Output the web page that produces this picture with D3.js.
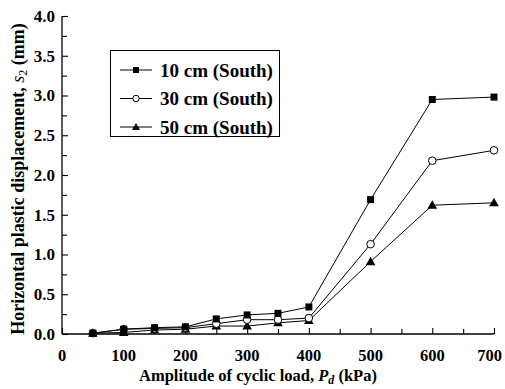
<!DOCTYPE html>
<html>
<head>
<meta charset="utf-8">
<style>
  html, body { margin: 0; padding: 0; background: #fff; }
  svg { display: block; }
  text { font-family: "Liberation Serif", "Times New Roman", serif; font-weight: bold; fill: #000; }
</style>
</head>
<body>
<div id="chart"></div>
<script src="https://cdn.jsdelivr.net/npm/d3@7"></script>
<script>
const loads = [50, 100, 150, 200, 250, 300, 350, 400, 500, 600, 700];
const s10 = [0.01, 0.06, 0.08, 0.09, 0.19, 0.24, 0.26, 0.34, 1.69, 2.95, 2.98];
const s30 = [0.01, 0.06, 0.07, 0.08, 0.13, 0.18, 0.18, 0.20, 1.13, 2.18, 2.31];
const s50 = [0.01, 0.02, 0.05, 0.06, 0.10, 0.10, 0.14, 0.17, 0.91, 1.62, 1.65];
const seriesNames = ["10 cm (South)", "30 cm (South)", "50 cm (South)"];
const markers = ["square", "circle", "triangle"];
const xTicks = [0, 100, 200, 300, 400, 500, 600, 700];
const yTicks = [0, 0.5, 1.0, 1.5, 2.0, 2.5, 3.0, 3.5, 4.0];

const width = 505, height = 389;
const margin = { left: 62, right: 11, top: 16, bottom: 55 };

const svg = d3.select("#chart").append("svg")
  .attr("width", width).attr("height", height);

const x = d3.scaleLinear().domain([0, 700]).range([margin.left, width - margin.right]);
const y = d3.scaleLinear().domain([0, 4]).range([height - margin.bottom, margin.top]);

// axes with inward ticks
const xAxis = svg.append("g").attr("transform", `translate(0,${y(0)})`)
  .call(d3.axisTop(x).tickValues(d3.range(0, 701, 50)).tickSize(6).tickFormat(""));
const yAxis = svg.append("g").attr("transform", `translate(${x(0)},0)`)
  .call(d3.axisRight(y).tickValues(d3.range(0, 4.01, 0.25)).tickSize(6).tickFormat(""));
[xAxis, yAxis].forEach(g => {
  g.select(".domain").attr("stroke", "#000").attr("stroke-width", 1.3);
  g.selectAll(".tick line").attr("stroke", "#000").attr("stroke-width", 1.1);
});
xAxis.selectAll(".tick line").attr("y2", d => d % 100 === 0 ? -6 : -5);
yAxis.selectAll(".tick line").attr("x2", d => Math.abs(d * 2 - Math.round(d * 2)) < 1e-6 ? 6 : 5);
xAxis.select(".domain").attr("d", `M${x(0)},0H${x(700)}`);
yAxis.select(".domain").attr("d", `M0,${y(0)}V${y(4)}`);

const xLabels = svg.append("g").selectAll("text").data(xTicks).join("text")
  .attr("x", d => x(d)).attr("y", y(0) + 27)
  .attr("text-anchor", "middle").style("font-size", "16.5px")
  .text(d => d);
// keep the last label inside the picture, as in the reference
xLabels.each(function (d) {
  const w = this.getComputedTextLength();
  if (x(d) + w / 2 > width - 3) d3.select(this).attr("x", width - 3 - w / 2);
});
svg.append("g").selectAll("text").data(yTicks).join("text")
  .attr("x", x(0) - 7).attr("y", d => y(d)).attr("dy", "0.35em")
  .attr("text-anchor", "end").style("font-size", "17px")
  .text(d => d.toFixed(1));

// axis titles
const xt = svg.append("text").attr("x", 258).attr("y", 381)
  .attr("text-anchor", "middle").style("font-size", "16.5px");
xt.append("tspan").text("Amplitude of cyclic load, ");
xt.append("tspan").style("font-style", "italic").text("P");
xt.append("tspan").style("font-style", "italic").style("font-size", "12px").attr("dy", 3).text("d");
xt.append("tspan").attr("dy", -3).text(" (kPa)");

const yt = svg.append("text").attr("transform", `translate(24,179) rotate(-90)`)
  .attr("text-anchor", "middle").style("font-size", "18px");
yt.append("tspan").text("Horizontal plastic displacement, ");
yt.append("tspan").style("font-style", "italic").style("font-weight", "normal").text("s");
yt.append("tspan").style("font-size", "12px").style("font-weight", "normal").attr("dy", 3).text("2");
yt.append("tspan").attr("dy", -3).text(" (mm)");

// series
const series = [s10, s30, s50].map((vals, i) => ({
  name: seriesNames[i], marker: markers[i],
  pts: loads.map((l, j) => ({ x: l, y: vals[j] }))
}));

function drawMarker(g, type, cx, cy) {
  if (type === "square") {
    g.append("rect").attr("x", cx - 3.5).attr("y", cy - 3.5).attr("width", 7).attr("height", 7)
      .attr("fill", "#000");
  } else if (type === "circle") {
    g.append("circle").attr("cx", cx).attr("cy", cy).attr("r", 3.8)
      .attr("fill", "#fff").attr("stroke", "#000").attr("stroke-width", 1);
  } else {
    g.append("path").attr("d", `M${cx},${cy - 5}L${cx + 4.8},${cy + 3.5}L${cx - 4.8},${cy + 3.5}Z`)
      .attr("fill", "#000");
  }
}

const line = d3.line().x(d => x(d.x)).y(d => y(d.y));
const plot = svg.append("g");
series.forEach(s => {
  plot.append("path").datum(s.pts).attr("d", line)
    .attr("fill", "none").attr("stroke", "#000").attr("stroke-width", 1);
});
[2, 1, 0].forEach(i => {
  const s = series[i];
  const g = plot.append("g");
  s.pts.forEach(p => drawMarker(g, s.marker, x(p.x), y(p.y)));
});

// legend
const lg = svg.append("g");
lg.append("rect").attr("x", 110.5).attr("y", 50.5).attr("width", 169).attr("height", 86)
  .attr("fill", "#fff").attr("stroke", "#000").attr("stroke-width", 1);
series.forEach((s, i) => {
  const ry = 70 + i * 28.5;
  lg.append("line").attr("x1", 120).attr("x2", 152).attr("y1", ry).attr("y2", ry)
    .attr("stroke", "#000").attr("stroke-width", 1);
  const g = lg.append("g");
  if (s.marker === "square") {
    g.append("rect").attr("x", 133).attr("y", ry - 3).attr("width", 6).attr("height", 6).attr("fill", "#000");
  } else if (s.marker === "circle") {
    g.append("circle").attr("cx", 136).attr("cy", ry).attr("r", 3.2)
      .attr("fill", "#fff").attr("stroke", "#000").attr("stroke-width", 1);
  } else {
    g.append("path").attr("d", `M136,${ry - 4}L140,${ry + 3}L132,${ry + 3}Z`).attr("fill", "#000");
  }
  lg.append("text").attr("x", 160).attr("y", ry).attr("dy", "0.35em")
    .style("font-size", "19px").text(s.name);
});
</script>
</body>
</html>
